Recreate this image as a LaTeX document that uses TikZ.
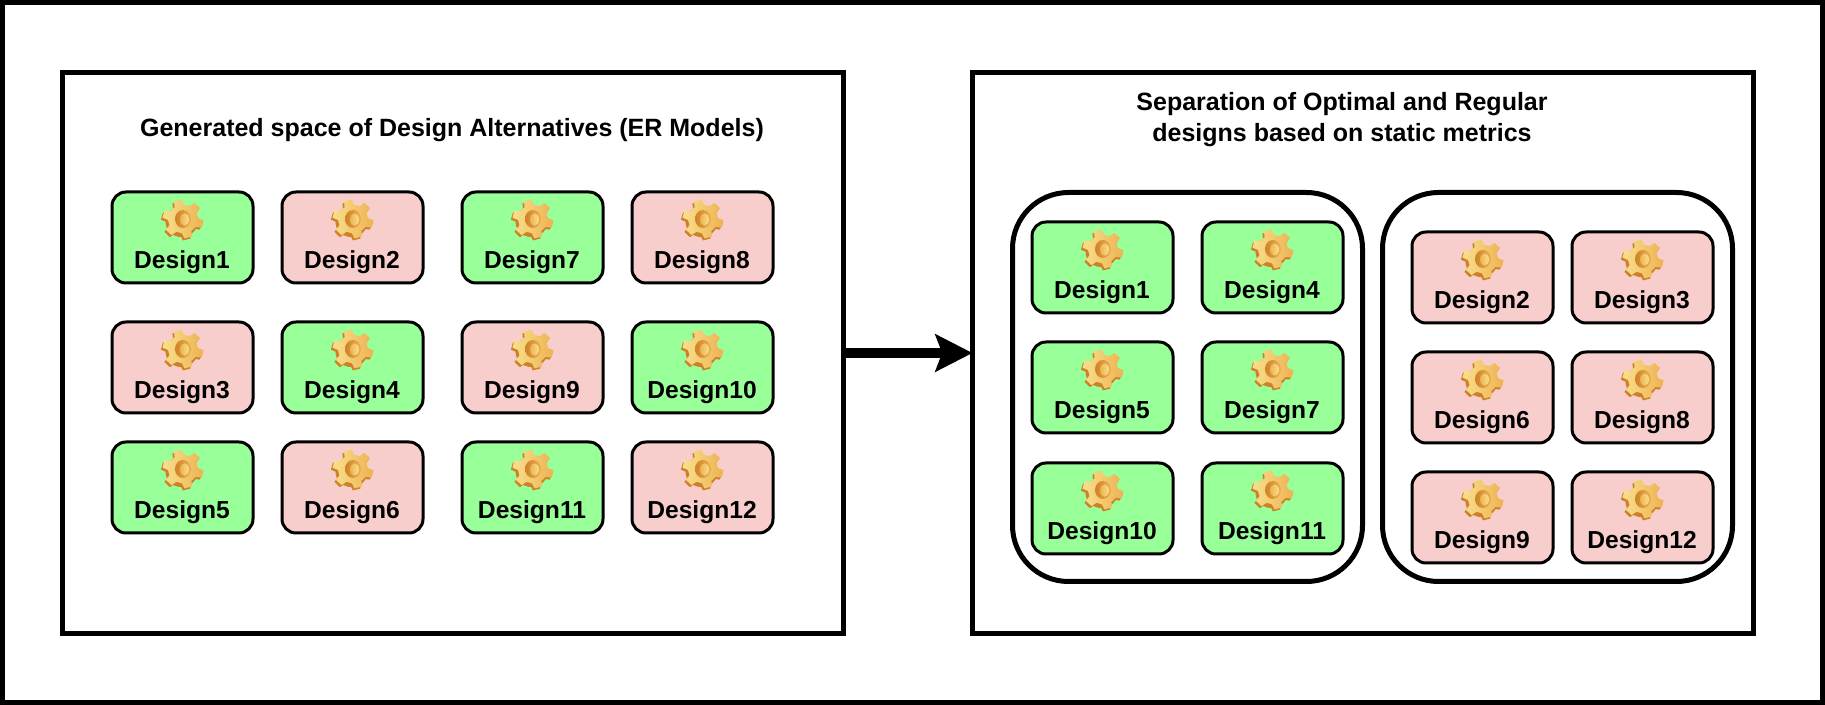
\documentclass[tikz,border=0pt]{standalone}
\usepackage{fontspec}
\setmainfont{Liberation Sans}
\usetikzlibrary{arrows.meta,calc}
\definecolor{goodfill}{HTML}{99FF99}
\definecolor{badfill}{HTML}{F8CECC}
\definecolor{gearlight}{HTML}{F8DF8C}
\definecolor{gearmid}{HTML}{EDB252}
\definecolor{geardark}{HTML}{CF8128}
\newcommand{\gearoutline}{%
  (15:20.5)
  \foreach \k in {0,...,5}{
    -- ({15+60*\k+11}:20.5) -- ({15+60*\k+19}:15) -- ({15+60*\k+41}:15) -- ({15+60*\k+49}:20.5)
  } -- cycle}
\tikzset{
  x=0.75pt,y=-0.75pt,
  frame/.style={draw=black,line width=3.75pt,fill=white,sharp corners,inner sep=0pt,outer sep=0pt},
  dbox/.style={draw=black,line width=2.25pt,rounded corners=10.5pt,minimum width=105.75pt,minimum height=68.25pt,inner sep=0pt,outer sep=0pt,anchor=north west},
  good/.style={dbox,fill=goodfill},
  bad/.style={dbox,fill=badfill},
  dlabel/.style={font=\fontsize{18.45}{18.45}\selectfont\bfseries,anchor=base,inner sep=0pt},
  title/.style={font=\fontsize{18.75}{23.5}\selectfont\bfseries,align=center,inner sep=0pt},
  group/.style={draw=black,line width=3.75pt,fill=white,rounded corners=42pt,inner sep=0pt,outer sep=0pt,minimum width=262.5pt,minimum height=291.75pt,anchor=north west},
  pics/gearicon/.style={code={
    \begin{scope}[yscale=.95]
      \fill[geardark,xshift=-1.2pt,yshift=-1.6pt] \gearoutline;
      \fill[geardark] (-1.5,3) circle[radius=16];
      \path[shade,shading angle=125,left color=gearlight,right color=gearmid] \gearoutline;
      \shade[shading angle=130,left color=geardark,right color=gearmid] (0,0) ellipse[x radius=8,y radius=9.5];
      \shade[shading angle=130,left color=gearmid,right color=gearlight] (1.5,0.5) ellipse[x radius=4.5,y radius=6.5];
    \end{scope}
  }}
}
\newcommand{\design}[5]{%
  \node[#4] (#1) at (#2,#3) {};
  \pic at ($(#1.north west)+(71,27)$) {gearicon};
  \node[dlabel] (#1t) at ($(#1.north west)+(70,77)$) {#5};
}
\begin{document}
\begin{tikzpicture}
\useasboundingbox (0,0) rectangle (1825,705);
\node[frame,minimum width=1365pt,minimum height=525pt,anchor=north west] (page) at (2.5,2.5) {};
\node[frame,minimum width=585.75pt,minimum height=420.75pt,anchor=north west] (leftbox) at (62.5,72.5) {};
\node[frame,minimum width=585.75pt,minimum height=420.75pt,anchor=north west] (rightbox) at (972.5,72.5) {};
\draw[line width=7.5pt,-{Stealth[length=27.75pt,width=27.75pt,inset=5pt]}] (leftbox.east) -- (rightbox.west);
\node[title] (lt) at (452,130) {Generated space of Design Alternatives (ER Models)};
\node[title] (rt) at (1342,119.5) {Separation of Optimal and Regular\\designs based on static metrics};
\node[group] (g1) at (1012.5,192.5) {};
\node[group] (g2) at (1382.5,192.5) {};
% left panel
\design{a1}{112}{192}{good}{Design1}
\design{a2}{282}{192}{bad}{Design2}
\design{a7}{462}{192}{good}{Design7}
\design{a8}{632}{192}{bad}{Design8}
\design{a3}{112}{322}{bad}{Design3}
\design{a4}{282}{322}{good}{Design4}
\design{a9}{462}{322}{bad}{Design9}
\design{a10}{632}{322}{good}{Design10}
\design{a5}{112}{442}{good}{Design5}
\design{a6}{282}{442}{bad}{Design6}
\design{a11}{462}{442}{good}{Design11}
\design{a12}{632}{442}{bad}{Design12}
% right panel, optimal
\design{b1}{1032}{222}{good}{Design1}
\design{b4}{1202}{222}{good}{Design4}
\design{b5}{1032}{342}{good}{Design5}
\design{b7}{1202}{342}{good}{Design7}
\design{b10}{1032}{463}{good}{Design10}
\design{b11}{1202}{463}{good}{Design11}
% right panel, regular
\design{c2}{1412}{232}{bad}{Design2}
\design{c3}{1572}{232}{bad}{Design3}
\design{c6}{1412}{352}{bad}{Design6}
\design{c8}{1572}{352}{bad}{Design8}
\design{c9}{1412}{472}{bad}{Design9}
\design{c12}{1572}{472}{bad}{Design12}
\end{tikzpicture}
\end{document}
